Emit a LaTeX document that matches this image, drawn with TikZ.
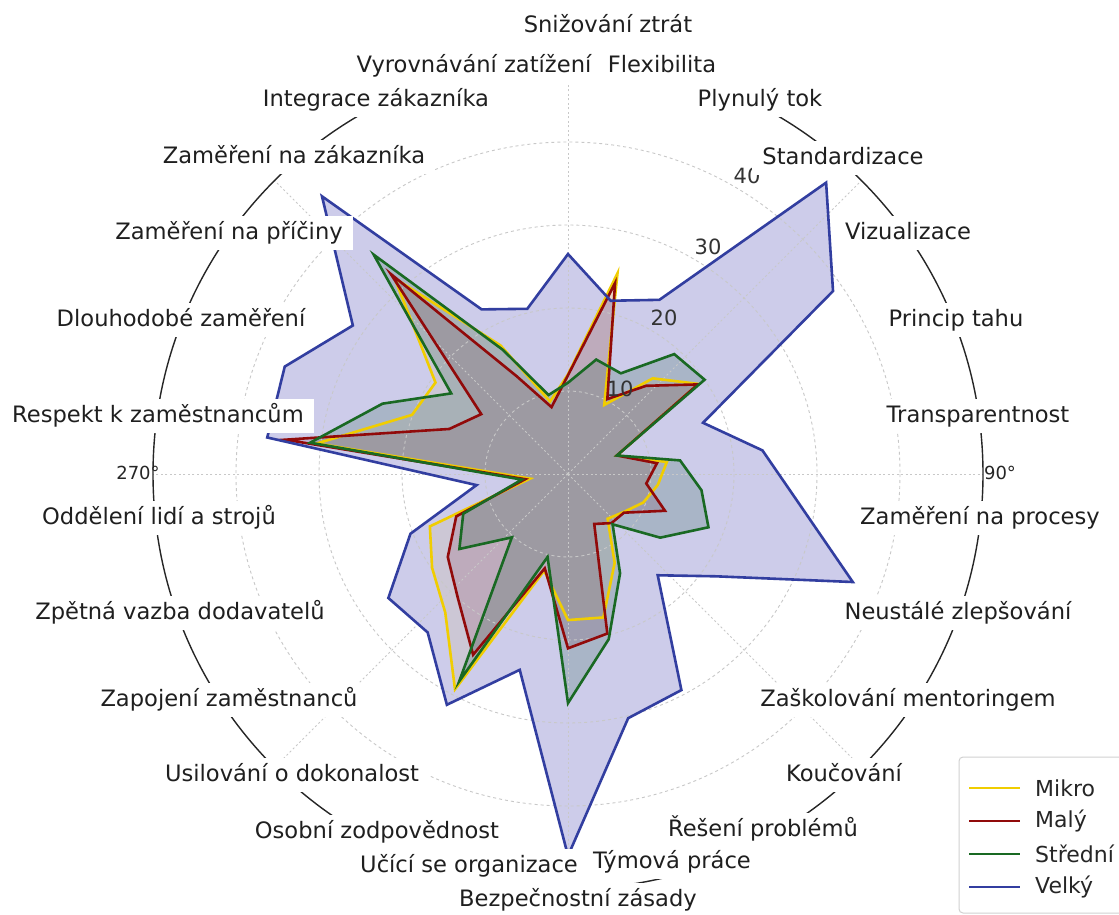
\documentclass[tikz,border=0pt]{standalone}
\usepackage{fontspec}
\setmainfont{DejaVu Sans}
\begin{document}
\begin{tikzpicture}[x=1bp,y=-1bp]
% series colours
\definecolor{cMikro}{RGB}{240,205,0}
\definecolor{cMaly}{RGB}{145,10,10}
\definecolor{cStredni}{RGB}{25,105,35}
\definecolor{cVelky}{RGB}{50,62,160}
\definecolor{fVelky}{RGB}{30,25,160}
\definecolor{gridgray}{RGB}{200,200,200}
\tikzset{
  catlabel/.style={fill=white, inner xsep=10bp, inner ysep=6bp, text height=17bp, text depth=5bp,
                   font=\fontsize{22.6bp}{27bp}\selectfont, text=black!88},
  ticklabel/.style={font=\fontsize{21bp}{25bp}\selectfont, text=black!80, inner sep=0pt},
  deglabel/.style={font=\fontsize{18bp}{22bp}\selectfont, text=black!85, inner sep=0pt},
  gridcirc/.style={gridgray, line width=0.9bp, dash pattern=on 3bp off 3bp},
  gridray/.style={gridgray, line width=0.9bp, dash pattern=on 2bp off 2.5bp},
  serline/.style={line width=2.6bp, line join=miter, miter limit=20},
  legline/.style={line width=2.6bp},
  legtext/.style={font=\fontsize{22bp}{26bp}\selectfont, text=black!85, anchor=west, inner sep=0pt}
}
\useasboundingbox (0,0) rectangle (1119,915);
\fill[white] (0,0) rectangle (1119,915);

% values per category, clockwise from the top
\def\datMikro{{12,24.9,9.4,15.4,19.1,6.3,12.0,10.9,9.7,8.1,7.2,12.1,17.8,17.6,12.0,29.3,22.3,19.9,17.8,4.6,30.5,20.1,19.4,31.5,17.5,9}}
\def\datMaly{{11.9,23.7,10.2,14.2,19.0,6.3,10.8,9.5,12.5,8.2,7.9,6.8,19.8,21.0,11.7,24.6,20,17.6,14.4,5.2,34.3,15.3,12.7,32.2,13.3,8.3}}
\def\datStredni{{11,14.2,13.7,19.3,20.0,6.3,13.6,16.2,18.1,13.5,8.1,13.5,20.5,27.6,10.3,28.2,10.2,15.9,13.5,5.6,31.3,23.9,17.1,35.3,16.9,9.8}}
\def\datVelky{{26.5,21.5,23.7,46.9,38.8,17.4,23.6,27.9,36.7,21.7,16.3,29.4,30.3,46,24.3,31.4,25.5,26.3,20.3,11.1,36.5,36.5,31.5,44.7,22.4,20.5}}

\coordinate (C) at (568,474);
\begin{scope}[shift={(C)}]
  % filled areas
  \fill[cMikro, opacity=0.10] plot[variable=\k, samples at={0,...,25}] ({\k*360/26-90}:{8.3*\datMikro[\k]}) -- cycle;
  \fill[cMaly, opacity=0.15] plot[variable=\k, samples at={0,...,25}] ({\k*360/26-90}:{8.3*\datMaly[\k]}) -- cycle;
  \fill[cStredni, opacity=0.20] plot[variable=\k, samples at={0,...,25}] ({\k*360/26-90}:{8.3*\datStredni[\k]}) -- cycle;
  \fill[fVelky, opacity=0.22] plot[variable=\k, samples at={0,...,25}] ({\k*360/26-90}:{8.3*\datVelky[\k]}) -- cycle;
  % polar grid
  \foreach \r in {83,166,249,332} \draw[gridcirc] (0,0) circle[radius=\r];
  \foreach \a in {0,45,...,315} \draw[gridray] (0,0) -- ({\a-90}:415);
  % outlines
  \draw[serline, cMikro] plot[variable=\k, samples at={0,...,25}] ({\k*360/26-90}:{8.3*\datMikro[\k]}) -- cycle;
  \draw[serline, cMaly] plot[variable=\k, samples at={0,...,25}] ({\k*360/26-90}:{8.3*\datMaly[\k]}) -- cycle;
  \draw[serline, cStredni] plot[variable=\k, samples at={0,...,25}] ({\k*360/26-90}:{8.3*\datStredni[\k]}) -- cycle;
  \draw[serline, cVelky] plot[variable=\k, samples at={0,...,25}] ({\k*360/26-90}:{8.3*\datVelky[\k]}) -- cycle;
\end{scope}

% radial tick labels
\node[ticklabel] (r10) at (620,389) {10};
\node[ticklabel] (r20) at (664,318) {20};
\node[ticklabel] (r30) at (708,247) {30};
\node[ticklabel] (r40) at (747,176) {40};

% outer frame
\draw[black!85, line width=1.4bp] (C) circle[radius=415];

% angle labels
\node[deglabel] (d90) at (1000,473) {90°};
\node[deglabel] (d270) at (138,473) {270°};

% category labels
\node[catlabel] (l0) at (608,26) {Snižování ztrát};
\node[catlabel] (l1) at (662,66) {Flexibilita};
\node[catlabel] (l2) at (760,100) {Plynulý tok};
\node[catlabel] (l3) at (843,158) {Standardizace};
\node[catlabel] (l4) at (908,233) {Vizualizace};
\node[catlabel] (l5) at (956,320) {Princip tahu};
\node[catlabel] (l6) at (978,416) {Transparentnost};
\node[catlabel] (l7) at (980,518) {Zaměření na procesy};
\node[catlabel] (l8) at (958,613) {Neustálé zlepšování};
\node[catlabel] (l9) at (908,700) {Zaškolování mentoringem};
\node[catlabel] (l10) at (844,775) {Koučování};
\node[catlabel] (l11) at (763,830) {Řešení problémů};
\node[catlabel] (l12) at (672,862) {Týmová práce};
\node[catlabel] (l13) at (578,900) {Bezpečnostní zásady};
\node[catlabel] (l14) at (469,866) {Učící se organizace};
\node[catlabel] (l15) at (377,832) {Osobní zodpovědnost};
\node[catlabel] (l16) at (292,775) {Usilování o dokonalost};
\node[catlabel] (l17) at (229,700) {Zapojení zaměstnanců};
\node[catlabel] (l18) at (180,613) {Zpětná vazba dodavatelů};
\node[catlabel] (l19) at (159,518) {Oddělení lidí a strojů};
\node[catlabel] (l20) at (158,416) {Respekt k zaměstnancům};
\node[catlabel] (l21) at (181,320) {Dlouhodobé zaměření};
\node[catlabel] (l22) at (229,233) {Zaměření na příčiny};
\node[catlabel] (l23) at (294,157) {Zaměření na zákazníka};
\node[catlabel] (l24) at (376,100) {Integrace zákazníka};
\node[catlabel] (l25) at (474,66) {Vyrovnávání zatížení};

% legend
\draw[black!18, fill=white, line width=1bp, rounded corners=4bp] (959,757) rectangle (1125,913);
\coordinate (g1a) at (969,788); \coordinate (g1b) at (1020,788);
\coordinate (g2a) at (969,821); \coordinate (g2b) at (1020,821);
\coordinate (g3a) at (969,854); \coordinate (g3b) at (1020,854);
\coordinate (g4a) at (969,887); \coordinate (g4b) at (1020,887);
\draw[legline, cMikro] (g1a) -- (g1b);
\draw[legline, cMaly] (g2a) -- (g2b);
\draw[legline, cStredni] (g3a) -- (g3b);
\draw[legline, cVelky] (g4a) -- (g4b);
\node[legtext] (t1) at (1035,788) {Mikro};
\node[legtext] (t2) at (1035,821) {Malý};
\node[legtext] (t3) at (1035,854) {Střední};
\node[legtext] (t4) at (1035,887) {Velký};
\end{tikzpicture}
\end{document}
